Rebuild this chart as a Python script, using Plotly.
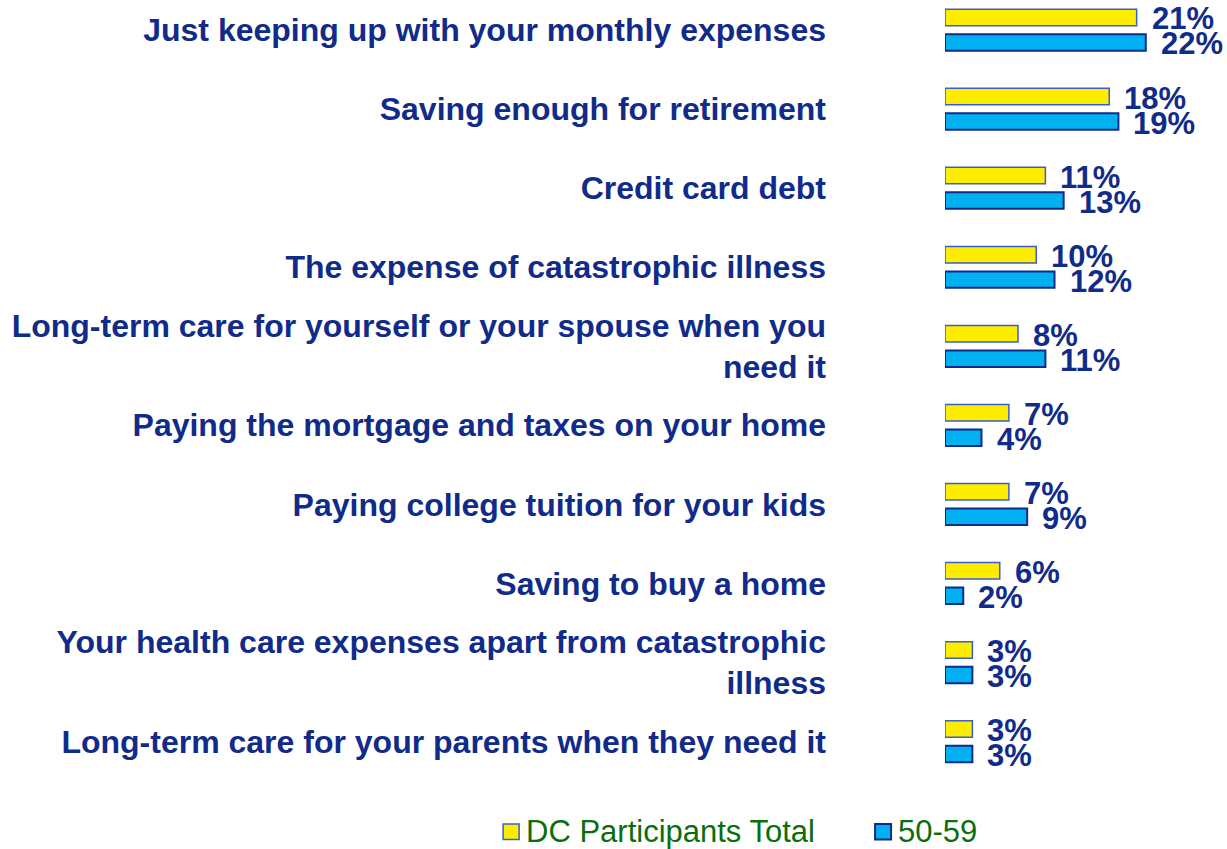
import plotly.graph_objects as go

# Survey items and shares (%) for the two groups
categories = [
    "Just keeping up with your monthly expenses",
    "Saving enough for retirement",
    "Credit card debt",
    "The expense of catastrophic illness",
    "Long-term care for yourself or your spouse when you<br>need it",
    "Paying the mortgage and taxes on your home",
    "Paying college tuition for your kids",
    "Saving to buy a home",
    "Your health care expenses apart from catastrophic<br>illness",
    "Long-term care for your parents when they need it",
]
dc_total = [21, 18, 11, 10, 8, 7, 7, 6, 3, 3]
age_50_59 = [22, 19, 13, 12, 11, 4, 9, 2, 3, 3]
series_names = ["DC Participants Total", "50-59"]

NAVY = "#112B8A"
YELLOW = "#FFED00"
CYAN = "#00B0F0"
GREEN = "#0A6E0A"

pos = list(range(len(categories)))

fig = go.Figure()
fig.add_trace(go.Bar(
    y=pos, x=dc_total, orientation="h", name=series_names[0],
    marker=dict(color=YELLOW, line=dict(color="#3A5FCD", width=1.5)),
    showlegend=False,
))
fig.add_trace(go.Bar(
    y=pos, x=age_50_59, orientation="h", name=series_names[1],
    marker=dict(color=CYAN, line=dict(color=NAVY, width=2)),
    showlegend=False,
))

# Value labels to the right of each bar
value_font = dict(family="Liberation Sans", size=31, color=NAVY, weight="bold")
annotations = []
for i, (a, b) in enumerate(zip(dc_total, age_50_59)):
    annotations.append(dict(x=a, y=i, text=f"{a}%", xanchor="left", yanchor="middle",
                            xshift=13, yshift=11, showarrow=False, font=value_font))
    annotations.append(dict(x=b, y=i, text=f"{b}%", xanchor="left", yanchor="middle",
                            xshift=13, yshift=-14, showarrow=False, font=value_font))

# Legend drawn below the plot
legend_items = [(series_names[0], YELLOW, "#3A5FCD", 1.5, -1.567),
                (series_names[1], CYAN, NAVY, 2, -0.248)]
shapes = []
for name, fill, edge, lw, x0 in legend_items:
    w = 16 / 282
    shapes.append(dict(type="rect", xref="paper", yref="paper",
                       x0=x0, x1=x0 + w, y0=-0.055, y1=-0.075,
                       fillcolor=fill, line=dict(color=edge, width=lw)))
    annotations.append(dict(x=x0 + w + 5 / 282, y=-0.065, xref="paper", yref="paper",
                            text=name, xanchor="left", yanchor="middle", showarrow=False,
                            font=dict(family="Liberation Sans", size=31, color=GREEN)))

fig.update_layout(
    width=1227, height=849,
    margin=dict(l=945, r=0, t=0, b=67.5),
    paper_bgcolor="white", plot_bgcolor="white",
    barmode="group", bargap=0.368, bargroupgap=0.34,
    annotations=annotations, shapes=shapes,
    showlegend=False,
    xaxis=dict(range=[0, 30.9], showgrid=False, zeroline=False, showline=False,
               showticklabels=False, ticks=""),
    yaxis=dict(range=[9.5, -0.379], tickmode="array", tickvals=pos, ticktext=categories,
               showgrid=False, zeroline=False, showline=False, ticks="",
               ticklabelstandoff=118,
               tickfont=dict(family="Liberation Sans", size=32, color=NAVY, weight="bold")),
)

fig.write_html("out.html")
